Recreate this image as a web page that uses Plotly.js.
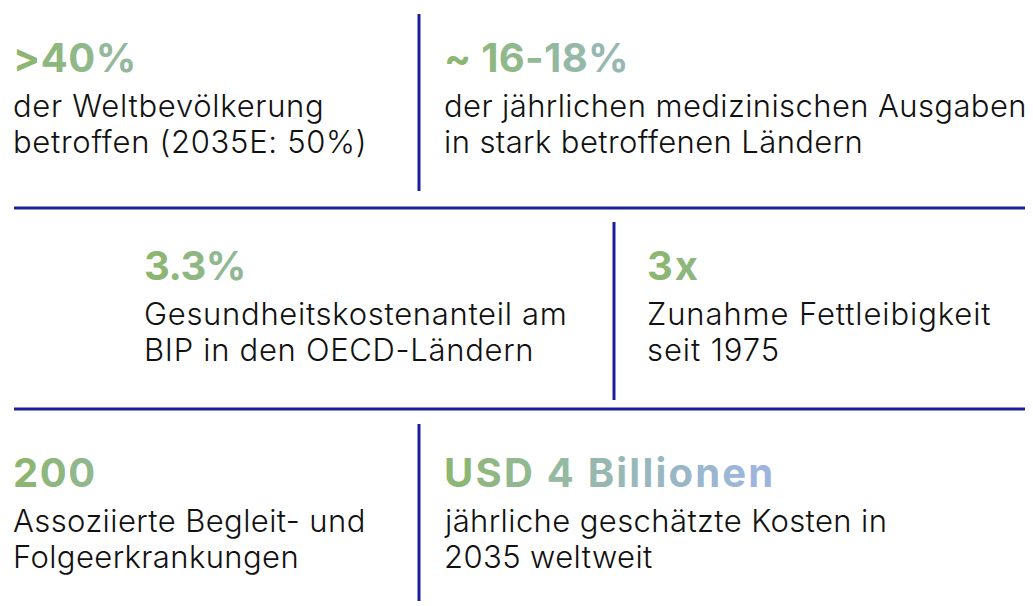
<!DOCTYPE html>
<html><head><meta charset="utf-8">
<script src="https://cdn.plot.ly/plotly-3.0.1.min.js"></script>
<style>html,body{margin:0;padding:0;background:#fff}#chart{width:1033px;height:606px}</style>
</head><body><div id="chart"></div>
<script>
// Data
const headlines = [">40%", "~ 16-18%", "3.3%", "3x", "200", "USD 4 Billionen"];
const bodyLine1 = ["der Weltbevölkerung", "der jährlichen medizinischen Ausgaben", "Gesundheitskostenanteil am", "Zunahme Fettleibigkeit", "Assoziierte Begleit- und", "jährliche geschätzte Kosten in"];
const bodyLine2 = ["betroffen (2035E: 50%)", "in stark betroffenen Ländern", "BIP in den OECD-Ländern", "seit 1975", "Folgeerkrankungen", "2035 weltweit"];

// Layout (pixel positions)
const blockX = [12, 443, 143, 646, 12, 443];
const blockY = [57, 57, 265, 265, 472, 472];
const headSpacing = [0.5, 0.3, -0.5, 2, 1.5, 2.2];
const bodySpacing = [0.7, 0.4, 0.7, 0.9, 0.4, 0.4];
const hLines = [{y:208, x0:14, x1:1025}, {y:409, x0:14, x1:1025}];
const vLines = [{x:419, y0:14, y1:191}, {x:614, y0:222, y1:400}, {x:419, y0:424, y1:601}];

const stops = [[0,[139,182,108]],[0.4,[150,185,168]],[1,[157,181,224]]];
function gradColor(t){
  t=Math.max(0,Math.min(1,t));
  for(let k=0;k<stops.length-1;k++){
    const [t0,a]=stops[k],[t1,b]=stops[k+1];
    if(t<=t1){const u=(t-t0)/(t1-t0);return 'rgb('+a.map((v,i)=>Math.round(v+(b[i]-v)*u)).join(',')+')';}
  }
  return 'rgb('+stops[stops.length-1][1].join(',')+')';
}
const ctx=document.createElement('canvas').getContext('2d');
ctx.font='700 40px Inter';
function gradText(s, ls){
  const full = 330;
  let out='', pos=0;
  for(let i=0;i<s.length;i++){
    const ch=s[i];
    const w=ctx.measureText(ch).width+ls;
    const t=(pos+w/2)/full;
    pos+=w;
    out += '<span style="color:'+gradColor(t)+';letter-spacing:'+ls+'px">'+(ch===' '?' ':ch)+'</span>';
  }
  return out;
}
function spaced(s, ls){ return '<span style="letter-spacing:'+ls+'px">'+s+'</span>'; }

const lineColor = '#1c1f9c';
const shapes = [];
hLines.forEach(l=>shapes.push({type:'line', xref:'x', yref:'y', x0:l.x0, x1:l.x1, y0:l.y, y1:l.y, line:{color:lineColor, width:3}}));
vLines.forEach(l=>shapes.push({type:'line', xref:'x', yref:'y', x0:l.x, x1:l.x, y0:l.y0, y1:l.y1, line:{color:lineColor, width:3}}));

const annotations = [];
const bodyFont = {family:'Inter, Roboto, sans-serif', size:31, color:'#111111', weight:300};
const headFont = {family:'Inter, Arial, sans-serif', size:40, weight:700, color:'#8bb66c'};
headlines.forEach((h,i)=>{
  annotations.push({x:blockX[i], y:blockY[i], xref:'x', yref:'y', xanchor:'left', yanchor:'middle', showarrow:false, text:gradText(h, headSpacing[i]), font:headFont, borderpad:0});
  annotations.push({x:blockX[i], y:blockY[i]+48, xref:'x', yref:'y', xanchor:'left', yanchor:'middle', showarrow:false, text:spaced(bodyLine1[i],bodySpacing[i]), font:bodyFont, borderpad:0});
  annotations.push({x:blockX[i], y:blockY[i]+84, xref:'x', yref:'y', xanchor:'left', yanchor:'middle', showarrow:false, text:spaced(bodyLine2[i],bodySpacing[i]), font:bodyFont, borderpad:0});
});

const layout = {
  width:1033, height:606, margin:{l:0,r:0,t:0,b:0},
  paper_bgcolor:'#ffffff', plot_bgcolor:'#ffffff',
  xaxis:{range:[0,1033], visible:false, fixedrange:true},
  yaxis:{range:[606,0], visible:false, fixedrange:true},
  shapes, annotations, showlegend:false
};
Plotly.newPlot('chart', [], layout, {staticPlot:true, displayModeBar:false});
</script></body></html>
